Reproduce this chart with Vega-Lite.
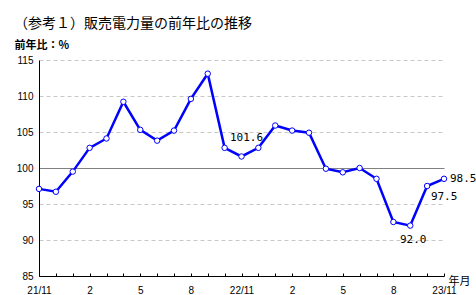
{
  "$schema": "https://vega.github.io/schema/vega-lite/v6.json",
  "autosize": "none",
  "width": 405,
  "height": 216,
  "padding": {"left": 39, "top": 60, "right": 32, "bottom": 19},
  "background": "white",
  "title": {
    "text": "（参考１）販売電力量の前年比の推移",
    "anchor": "start",
    "frame": "group",
    "dx": -25,
    "offset": 8,
    "font": "Noto Sans CJK JP",
    "fontSize": 14,
    "fontWeight": "normal",
    "color": "#000000"
  },
  "config": {
    "view": {"stroke": null},
    "axis": {"labelFont": "Liberation Sans", "labelColor": "#000000", "titleColor": "#000000"}
  },
  "data": {
    "values": [
      {"i": 0, "month": "2021-11", "value": 97.1},
      {"i": 1, "month": "2021-12", "value": 96.7},
      {"i": 2, "month": "2022-01", "value": 99.5},
      {"i": 3, "month": "2022-02", "value": 102.8},
      {"i": 4, "month": "2022-03", "value": 104.1},
      {"i": 5, "month": "2022-04", "value": 109.2},
      {"i": 6, "month": "2022-05", "value": 105.3},
      {"i": 7, "month": "2022-06", "value": 103.8},
      {"i": 8, "month": "2022-07", "value": 105.2},
      {"i": 9, "month": "2022-08", "value": 109.6},
      {"i": 10, "month": "2022-09", "value": 113.1},
      {"i": 11, "month": "2022-10", "value": 102.8},
      {"i": 12, "month": "2022-11", "value": 101.6},
      {"i": 13, "month": "2022-12", "value": 102.8},
      {"i": 14, "month": "2023-01", "value": 105.9},
      {"i": 15, "month": "2023-02", "value": 105.2},
      {"i": 16, "month": "2023-03", "value": 104.9},
      {"i": 17, "month": "2023-04", "value": 99.9},
      {"i": 18, "month": "2023-05", "value": 99.4},
      {"i": 19, "month": "2023-06", "value": 100.0},
      {"i": 20, "month": "2023-07", "value": 98.5},
      {"i": 21, "month": "2023-08", "value": 92.5},
      {"i": 22, "month": "2023-09", "value": 92.0},
      {"i": 23, "month": "2023-10", "value": 97.5},
      {"i": 24, "month": "2023-11", "value": 98.5}
    ]
  },
  "encoding": {
    "x": {
      "field": "i",
      "type": "quantitative",
      "scale": {"domain": [0, 24], "nice": false, "zero": false},
      "axis": {
        "values": [0,1,2,3,4,5,6,7,8,9,10,11,12,13,14,15,16,17,18,19,20,21,22,23,24],
        "labelExpr": "datum.value % 3 == 0 ? (datum.value % 12 == 0 ? (21 + datum.value / 12) + '/11' : '' + ((10 + datum.value) % 12 + 1)) : ''",
        "labelOverlap": false,
        "labelFlush": false,
        "labelFontSize": 10,
        "labelPadding": 17,
        "labelBaseline": "middle",
        "grid": false,
        "domainColor": "#000000",
        "domainWidth": 1,
        "tickColor": "#000000",
        "tickSize": -3,
        "title": "年月",
        "titleFont": "Noto Sans CJK JP",
        "titleFontSize": 11,
        "titleFontWeight": "normal",
        "titleX": 420,
        "titleY": 5,
        "titleAlign": "center",
        "titleBaseline": "middle"
      }
    },
    "y": {
      "field": "value",
      "type": "quantitative",
      "scale": {"domain": [85, 115], "nice": false, "zero": false},
      "axis": {
        "values": [85, 90, 95, 100, 105, 110, 115],
        "labelFontSize": 10,
        "labelPadding": 6,
        "ticks": false,
        "domainColor": "#000000",
        "domainWidth": 1,
        "grid": true,
        "gridColor": {"condition": {"test": "datum.value === 100", "value": "#808080"}, "value": "#c8c8c8"},
        "gridDash": {"condition": {"test": "datum.value === 100", "value": []}, "value": [4, 3]},
        "gridWidth": 1,
        "title": "前年比：%",
        "titleAngle": 0,
        "titleAlign": "left",
        "titleBaseline": "middle",
        "titleX": -25,
        "titleY": -15,
        "titleFont": "Noto Sans CJK JP",
        "titleFontSize": 11,
        "titleFontWeight": "bold"
      }
    }
  },
  "layer": [
    {"mark": {"type": "line", "color": "#0000ff", "strokeWidth": 2.5}},
    {"mark": {"type": "point", "shape": "circle", "filled": true, "fill": "#ffffff", "stroke": "#0000ff", "strokeWidth": 1, "size": 30, "opacity": 1}},
    {
      "transform": [{"filter": "datum.i == 12"}],
      "mark": {"type": "text", "font": "DejaVu Sans Mono", "fontSize": 11, "color": "#000000", "align": "center", "baseline": "middle", "dx": 5, "dy": -18},
      "encoding": {"text": {"field": "value", "type": "quantitative", "format": ".1f"}}
    },
    {
      "transform": [{"filter": "datum.i == 22"}],
      "mark": {"type": "text", "font": "DejaVu Sans Mono", "fontSize": 11, "color": "#000000", "align": "center", "baseline": "middle", "dx": 3, "dy": 14},
      "encoding": {"text": {"field": "value", "type": "quantitative", "format": ".1f"}}
    },
    {
      "transform": [{"filter": "datum.i == 23"}],
      "mark": {"type": "text", "font": "DejaVu Sans Mono", "fontSize": 11, "color": "#000000", "align": "center", "baseline": "middle", "dx": 17, "dy": 11},
      "encoding": {"text": {"field": "value", "type": "quantitative", "format": ".1f"}}
    },
    {
      "transform": [{"filter": "datum.i == 24"}],
      "mark": {"type": "text", "font": "DejaVu Sans Mono", "fontSize": 11, "color": "#000000", "align": "left", "baseline": "middle", "dx": 6, "dy": 0},
      "encoding": {"text": {"field": "value", "type": "quantitative", "format": ".1f"}}
    }
  ]
}
